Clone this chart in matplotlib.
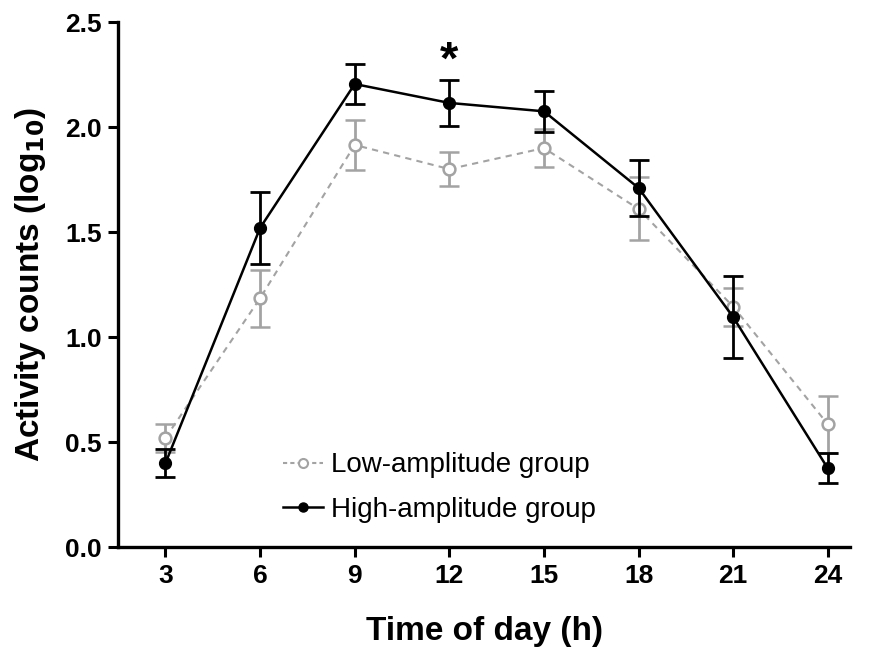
import matplotlib.pyplot as plt
from matplotlib.lines import Line2D

plt.rcParams['font.family'] = ['Liberation Sans', 'DejaVu Sans']

hours = [3, 6, 9, 12, 15, 18, 21, 24]
low_mean = [0.52, 1.185, 1.915, 1.80, 1.90, 1.61, 1.145, 0.585]
low_err = [0.065, 0.135, 0.12, 0.08, 0.09, 0.15, 0.09, 0.135]
high_mean = [0.40, 1.52, 2.205, 2.115, 2.075, 1.71, 1.095, 0.375]
high_err = [0.067, 0.17, 0.095, 0.11, 0.098, 0.135, 0.195, 0.072]
star_hours = [12]
star_level = [2.31]

grey = '#a3a3a3'
low_ls = (0, (3, 2.5))

fig = plt.figure(figsize=(8.69, 6.49), dpi=100)
ax = fig.add_axes([0.136, 0.157, 0.842, 0.809])

ax.errorbar(hours, low_mean, yerr=low_err, color=grey, ls=low_ls, lw=1.5,
            marker='o', ms=8.5, mfc='white', mec=grey, mew=1.8,
            elinewidth=2, capsize=7, capthick=2, zorder=2)
ax.errorbar(hours, high_mean, yerr=high_err, color='black', ls='-', lw=1.8,
            marker='o', ms=8.5, mfc='black', mec='black',
            elinewidth=2, capsize=7, capthick=2, zorder=3)

for h, s in zip(star_hours, star_level):
    ax.text(h, s, '*', ha='center', va='center', fontsize=34, fontweight='bold')

ax.set_xlim(1.5, 24.7)
ax.set_ylim(0, 2.5)
ax.set_xticks(hours)
ax.set_yticks([0.0, 0.5, 1.0, 1.5, 2.0, 2.5])
ax.set_yticklabels(['0.0', '0.5', '1.0', '1.5', '2.0', '2.5'])

for side in ['top', 'right']:
    ax.spines[side].set_visible(False)
for side in ['left', 'bottom']:
    ax.spines[side].set_linewidth(2.4)
ax.tick_params(width=2.2, length=7, labelsize=19, pad=5)
for lab in ax.get_xticklabels() + ax.get_yticklabels():
    lab.set_fontweight('bold')

ax.set_xlabel('Time of day (h)', fontsize=24, fontweight='bold', labelpad=20)
ax.set_ylabel('Activity counts (log$_{\\mathbf{10}}$)', fontsize=24, fontweight='bold', labelpad=12)

handles = [
    Line2D([], [], color=grey, ls=(0, (2, 1.5)), lw=1.5, marker='o', ms=6.5,
           mfc='white', mec=grey, mew=1.5),
    Line2D([], [], color='black', ls='-', lw=1.8, marker='o', ms=6.5, mfc='black'),
]
ax.legend(handles, ['Low-amplitude group', 'High-amplitude group'],
          loc='center left', bbox_to_anchor=(0.225, 0.113), frameon=False,
          fontsize=20, borderpad=0, borderaxespad=0, handlelength=1.45,
          handletextpad=0.3, labelspacing=0.68)

fig.savefig('out.png', dpi=100)
